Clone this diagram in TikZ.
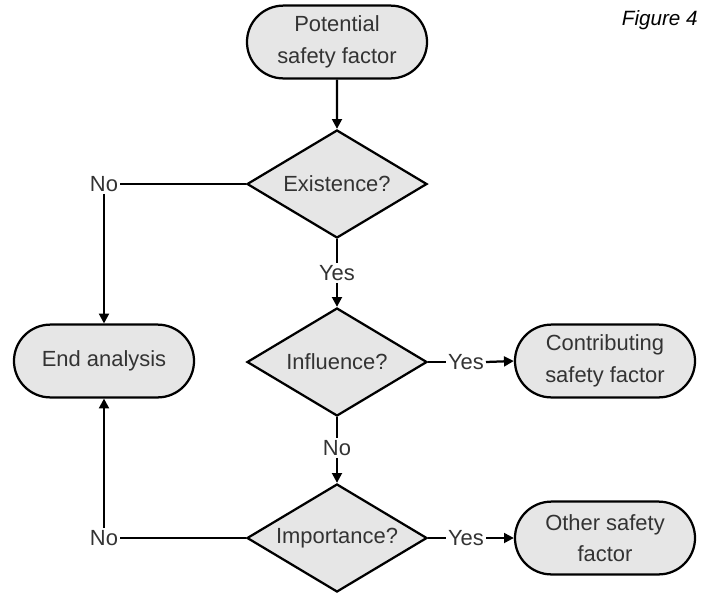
\documentclass[tikz,border=0pt]{standalone}
\usepackage{fontspec}
\setmainfont{Liberation Sans}
\usetikzlibrary{arrows.meta,shapes.geometric,shapes.misc}
\definecolor{boxgray}{HTML}{E6E6E6}
\definecolor{inkgray}{HTML}{333333}
\tikzset{
  >={Triangle[length=7pt,width=7pt]},
  % flödesschema
  term/.style={rounded rectangle,draw=black,fill=boxgray,line width=1.6pt,
               minimum width=4.5cm,minimum height=1.82cm,inner sep=0pt,
               align=center,text=inkgray,font=\fontsize{15.6}{22.5}\selectfont},
  dec/.style={diamond,draw=black,fill=boxgray,line width=1.6pt,aspect=1.67,
              minimum width=4.5cm,minimum height=2.7cm,inner sep=0pt,
              text=inkgray,font=\fontsize{15.6}{22.5}\selectfont},
  lbl/.style={inner sep=1.5pt,outer sep=0pt,text=inkgray,
              font=\fontsize{15.6}{18}\selectfont},
  fe/.style={draw=black,line width=1.6pt},
  fa/.style={->,draw=black,line width=1.6pt},
}
\begin{document}
\begin{tikzpicture}[x=0.025cm,y=-0.025cm]
\useasboundingbox (0,0) rectangle (704,594);
  \node[term] (pot) at (337,42) {Potential\\safety factor};
  \node[dec] (exist) at (337,184) {Existence?};
  \node[dec] (infl) at (337,362) {Influence?};
  \node[dec] (impo) at (337,538) {Importance?};
  \node[term] (endan) at (104,361) {End analysis};
  \node[term] (contr) at (605,361) {Contributing\\safety factor};
  \node[term] (other) at (605,538) {Other safety\\factor};
  \node[lbl] (noA) at (104,184) {No};
  \node[lbl] (yesA) at (337,273) {Yes};
  \node[lbl] (yesB) at (466,362) {Yes};
  \node[lbl] (noB) at (337,448) {No};
  \node[lbl] (noC) at (104,538) {No};
  \node[lbl] (yesC) at (466,538) {Yes};
  \node[anchor=east,inner sep=0pt,text=black,
        font=\fontsize{14.7}{17}\selectfont\itshape] (fig) at (698,20) {Figure 4};
  \draw[fa] (pot) -- (exist);
  \draw[fe] (exist.west) -- (noA.east);
  \draw[fa] (noA.south) -- (endan.north);
  \draw[fe] (exist.south) -- (yesA.north);
  \draw[fa] (yesA.south) -- (infl.north);
  \draw[fe] (infl.east) -- (yesB.west);
  \draw[fa] (yesB.east) -- (contr.west);
  \draw[fe] (infl.south) -- (noB.north);
  \draw[fa] (noB.south) -- (impo.north);
  \draw[fe] (impo.west) -- (noC.east);
  \draw[fa] (noC.north) -- (endan.south);
  \draw[fe] (impo.east) -- (yesC.west);
  \draw[fa] (yesC.east) -- (other.west);
\end{tikzpicture}
\end{document}
